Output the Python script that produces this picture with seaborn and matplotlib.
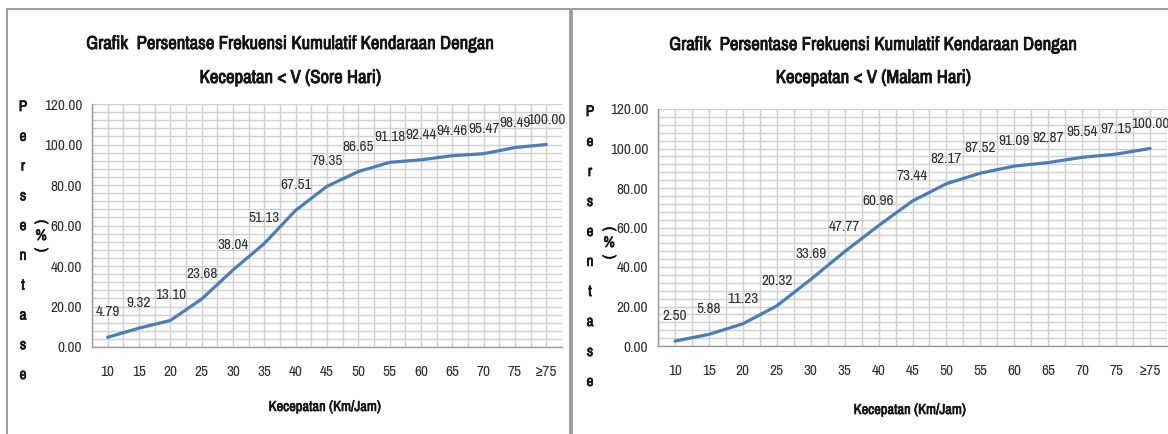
import matplotlib
matplotlib.use("Agg")
import matplotlib.pyplot as plt
import matplotlib.font_manager as fm
import matplotlib.patheffects as pe
import seaborn as sns
import numpy as np
import pandas as pd
from matplotlib.patches import Rectangle
from matplotlib.ticker import MultipleLocator, FixedLocator

sns.set_theme(style="white")

# prefer a narrow / condensed family when one is installed
_names = sorted({f.name for f in fm.fontManager.ttflist})
_narrow = [n for n in _names if ("Narrow" in n or "Condensed" in n)]
if _narrow:
    FAMILY = [_narrow[0], "DejaVu Sans"]
    NARROW = True
else:
    FAMILY = ["Liberation Sans", "DejaVu Sans"]
    NARROW = False
plt.rcParams['font.family'] = FAMILY


def _wnum(w):
    if isinstance(w, str):
        return fm.weight_dict.get(w, 400)
    return w


BOLD_OK = any(f.name == FAMILY[0] and _wnum(f.weight) >= 600 for f in fm.fontManager.ttflist)

categories = ["10", "15", "20", "25", "30", "35", "40", "45", "50", "55", "60", "65", "70", "75", "≥75"]
sore_values = [4.79, 9.32, 13.10, 23.68, 38.04, 51.13, 67.51, 79.35, 86.65, 91.18, 92.44, 94.46, 95.47, 98.49, 100.00]
malam_values = [2.50, 5.88, 11.23, 20.32, 33.69, 47.77, 60.96, 73.44, 82.17, 87.52, 91.09, 92.87, 95.54, 97.15, 100.00]
titles = ["Grafik  Persentase Frekuensi Kumulatif Kendaraan Dengan\nKecepatan < V (Sore Hari)",
          "Grafik  Persentase Frekuensi Kumulatif Kendaraan Dengan\nKecepatan < V (Malam Hari)"]
xlabel = "Kecepatan (Km/Jam)"
ylabel_word = "Persentase"

W, H = 1168, 434
fig = plt.figure(figsize=(W / 100, H / 100), dpi=100)
fig.patch.set_facecolor("white")


def fx(px):
    return px / W


def fy(py):
    return 1 - py / H


line_color = "#4a7ebb"
grid_color = "#d0d0d0"
text_color = "#2e2e2e"
dark = "#141414"


def bold_kw(stroke=0.5):
    if BOLD_OK:
        return dict(fontweight="bold")
    return dict(path_effects=[pe.withStroke(linewidth=stroke, foreground=dark)])


s_title = 13.5 if NARROW else 11
s_tick = 11 if NARROW else 9
s_lab = 11 if NARROW else 8.6
s_ax = 11 if NARROW else 9.5

panels = [
    dict(values=sore_values, title=titles[0], ax_px=(92, 104, 562, 347),
         frame=(7, 9, 570), title_x=290, title_y1=44, title_y2=78,
         ylet_x=23, ylet_top=107, ylet_bot=375, pct_x=41, pct_y=236, xlab=(325, 407)),
    dict(values=malam_values, title=titles[1], ax_px=(658, 109, 1167, 346),
         frame=(572, 9, 1180), title_x=873, title_y1=45, title_y2=78,
         ylet_x=590, ylet_top=112, ylet_bot=382, pct_x=609, pct_y=243, xlab=(910, 410)),
]

for p in panels:
    x0, y0, x1, y1 = p["ax_px"]
    ax = fig.add_axes([fx(x0), fy(y1), fx(x1 - x0), (y1 - y0) / H])
    df = pd.DataFrame({"pos": np.arange(len(categories)), "val": p["values"]})
    sns.lineplot(data=df, x="pos", y="val", ax=ax, color=line_color, linewidth=2.3, zorder=3)
    ax.set_xlim(-0.5, len(categories) - 0.5)
    ax.set_ylim(0, 120)
    ax.set_xticks(np.arange(len(categories)))
    ax.set_xticklabels(categories)
    ax.xaxis.set_minor_locator(FixedLocator(np.arange(-0.5, len(categories), 1.0)))
    ax.yaxis.set_major_locator(MultipleLocator(20))
    ax.yaxis.set_minor_locator(MultipleLocator(4))
    ax.set_yticklabels([f"{v:.2f}" for v in ax.get_yticks()])
    ax.tick_params(axis="x", which="major", length=0, pad=13, labelsize=s_tick, labelcolor=text_color)
    ax.tick_params(axis="x", which="minor", length=4, color="#999999", width=1, direction="out")
    ax.tick_params(axis="y", which="major", length=3, color="#999999", labelsize=s_tick,
                   labelcolor=text_color, pad=4)
    ax.tick_params(axis="y", which="minor", length=0)
    ax.grid(True, which="both", axis="both", color=grid_color, linewidth=1)
    ax.set_axisbelow(True)
    for s in ["top", "right"]:
        ax.spines[s].set_visible(False)
    for s in ["left", "bottom"]:
        ax.spines[s].set_color("#999999")
        ax.spines[s].set_linewidth(1)
    ax.set_xlabel("")
    ax.set_ylabel("")
    for i, v in enumerate(p["values"]):
        ax.annotate(f"{v:.2f}", (i, v), xytext=(0, 25), textcoords="offset pixels",
                    ha="center", va="center", fontsize=s_lab, color=text_color, zorder=4)

    fx0, fy0, fx1 = p["frame"]
    fig.add_artist(Rectangle((fx(fx0), -0.05), fx(fx1 - fx0), fy(fy0) + 0.05,
                             transform=fig.transFigure, fill=False,
                             edgecolor="#8c8c8c", linewidth=1.2))
    l1, l2 = p["title"].split("\n")
    fig.text(fx(p["title_x"]), fy(p["title_y1"]), l1, ha="center", va="center",
             fontsize=s_title, color=dark, **bold_kw(0.6))
    fig.text(fx(p["title_x"]), fy(p["title_y2"]), l2, ha="center", va="center",
             fontsize=s_title, color=dark, **bold_kw(0.6))
    n = len(ylabel_word)
    for k, ch in enumerate(ylabel_word):
        yy = p["ylet_top"] + k * (p["ylet_bot"] - p["ylet_top"]) / (n - 1)
        fig.text(fx(p["ylet_x"]), fy(yy), ch, ha="center", va="center",
                 fontsize=s_ax, color=dark, **bold_kw())
    fig.text(fx(p["pct_x"]), fy(p["pct_y"] - 14), "(", rotation=-90, ha="center", va="center",
             fontsize=s_ax, color=dark, **bold_kw())
    fig.text(fx(p["pct_x"]), fy(p["pct_y"]), "%", ha="center", va="center",
             fontsize=s_ax, color=dark, **bold_kw())
    fig.text(fx(p["pct_x"]), fy(p["pct_y"] + 14), ")", rotation=-90, ha="center", va="center",
             fontsize=s_ax, color=dark, **bold_kw())
    fig.text(fx(p["xlab"][0]), fy(p["xlab"][1]), xlabel, ha="center", va="center",
             fontsize=s_ax - 0.5, color=dark, **bold_kw(0.45))

fig.savefig("out.png", dpi=100, facecolor="white")
